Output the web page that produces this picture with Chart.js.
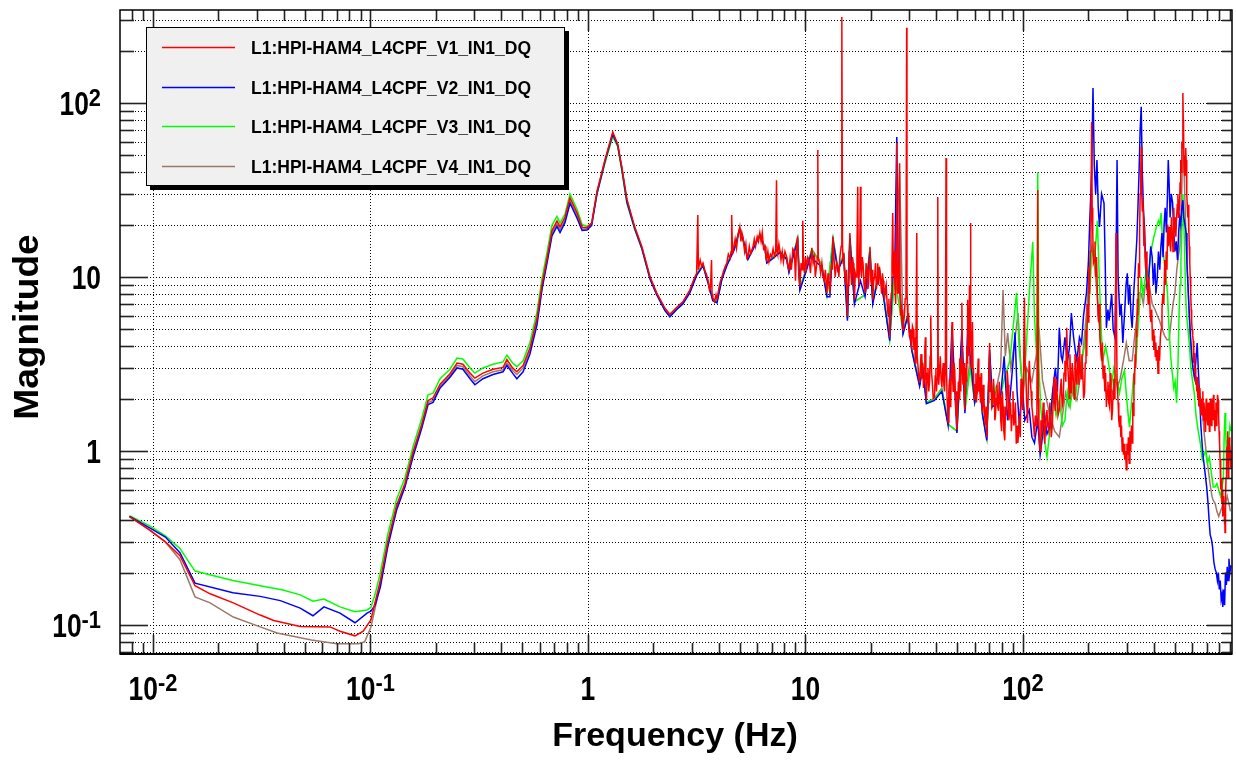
<!DOCTYPE html>
<html><head><meta charset="utf-8">
<script src="https://cdn.jsdelivr.net/npm/chart.js@4.4.1/dist/chart.umd.min.js"></script>
<style>html,body{margin:0;padding:0;background:#fff;}canvas{display:block;}</style>
</head><body>
<canvas id="c" width="1236" height="761"></canvas>
<script>
const seriesNames = ["L1:HPI-HAM4_L4CPF_V1_IN1_DQ","L1:HPI-HAM4_L4CPF_V2_IN1_DQ","L1:HPI-HAM4_L4CPF_V3_IN1_DQ","L1:HPI-HAM4_L4CPF_V4_IN1_DQ"];
const seriesColors = ["#ff0000","#0000ff","#00ff00","#9d7868"];
const xTitle = "Frequency (Hz)";
const yTitle = "Magnitude";
const xTickValues = [0.01,0.1,1,10,100];
const xTickLabels = [["10","-2"],["10","-1"],["1",""],["10",""],["10","2"]];
const yTickValues = [0.1,1,10,100];
const yTickLabels = [["10","-1"],["1",""],["10",""],["10","2"]];

// [frequency Hz, magnitude]
const V1 = [[0.0078,0.42],[0.0097,0.35],[0.0114,0.30],[0.0133,0.25],[0.0156,0.168],[0.0183,0.151],[0.0234,0.134],[0.0311,0.114],[0.0359,0.106],[0.0475,0.098],[0.0652,0.0975],[0.0724,0.092],[0.0849,0.0866],[0.0926,0.092],[0.1004,0.107],[0.105,0.135],[0.111,0.18],[0.120,0.30],[0.132,0.49],[0.144,0.65],[0.157,0.99],[0.172,1.42],[0.184,1.95],[0.194,2.02],[0.209,2.42],[0.232,2.78],[0.25,3.2],[0.266,3.15],[0.287,2.8],[0.302,2.62],[0.329,2.8],[0.366,2.95],[0.407,3.02],[0.424,3.35],[0.45,3.0],[0.471,2.85],[0.503,3.1],[0.541,3.9],[0.583,5.8],[0.615,9.1],[0.648,12.8],[0.683,18.4],[0.72,21],[0.744,19.4],[0.784,22],[0.827,28.5],[0.89,23.4],[0.94,19.3],[0.99,19.2],[1.04,20.4],[1.10,31],[1.197,47],[1.30,68],[1.37,58],[1.43,43],[1.51,28],[1.64,19.4],[1.77,14.9],[1.93,10.0],[2.07,8.1],[2.26,6.6],[2.38,6.1],[2.56,6.7],[2.73,7.2],[2.94,8.4],[3.02,9.2],[3.08,9.8],[3.16,10.5],[3.20,22.7],[3.22,11],[3.28,12.5],[3.33,11.5],[3.38,12],[3.45,10.8],[3.50,10.4],[3.56,9.6],[3.62,8.4],[3.66,8.8],[3.70,12.5],[3.72,8],[3.75,7.6],[3.82,7.2],[3.88,7.9],[3.92,7.4],[4.0,8.6],[4.06,9.4],[4.13,10],[4.2,10.8],[4.28,11.5],[4.35,12],[4.42,13.5],[4.5,12.8],[4.55,14],[4.58,22.7],[4.62,13.5],[4.68,14.9],[4.75,16.5],[4.82,14.6],[4.9,17.5],[4.99,19.4],[5.05,16],[5.1,18],[5.16,17],[5.25,14],[5.32,15.5],[5.38,12.8],[5.44,13],[5.52,15],[5.6,13.6],[5.67,14.2],[5.74,14.9],[5.82,16.5],[5.9,15],[6.0,17],[6.08,16],[6.17,17.9],[6.25,16],[6.33,18],[6.42,14.5],[6.52,15],[6.58,13],[6.64,12.5],[6.72,14],[6.8,12.3],[6.9,13.5],[7.0,13],[7.1,14.5],[7.2,13.2],[7.3,14],[7.36,36],[7.40,14],[7.45,13.5],[7.55,15.5],[7.62,14.3],[7.72,12.5],[7.82,14],[7.92,12.2],[8.05,14],[8.2,13],[8.3,11.6],[8.4,11],[8.5,12.8],[8.62,11],[8.75,14.5],[8.9,14],[9.0,9.5],[9.1,15],[9.2,17],[9.3,11],[9.43,8.8],[9.55,12],[9.65,11],[9.72,21],[9.8,12],[9.9,10.5],[10.0,13],[10.1,11.4],[10.25,13],[10.4,12.5],[10.55,10.5],[10.7,14.7],[10.85,12],[11.0,13],[11.1,10],[11.2,11],[11.35,13],[11.4,53.6],[11.45,13],[11.6,12],[11.75,10.5],[11.9,12],[12.05,10],[12.2,9.5],[12.35,11],[12.55,8.1],[12.7,10.5],[12.8,9.5],[12.95,8.1],[13.05,10],[13.2,12],[13.3,11],[13.4,17],[13.55,12.5],[13.7,10],[13.9,12],[14.1,11.4],[14.25,10],[14.4,13],[14.6,15],[14.7,312],[14.8,16],[14.9,12],[15.0,13.7],[15.15,10.5],[15.3,9],[15.45,11],[15.6,5.9],[15.7,9],[15.8,10],[15.9,14],[16.0,17.9],[16.15,11],[16.3,9],[16.45,13],[16.6,12],[16.7,9.5],[16.8,7.4],[16.95,10.5],[17.1,10],[17.25,14],[17.4,33],[17.5,11],[17.6,9],[17.75,12],[17.9,33],[18.0,11],[18.1,10],[18.25,13],[18.4,12],[18.6,9],[18.8,8.1],[19.0,12],[19.2,11],[19.35,8.5],[19.5,9],[19.65,12.5],[19.8,14.9],[19.95,10],[20.1,9],[20.25,11],[20.4,7.4],[20.6,9.5],[20.8,10],[21.0,12],[21.2,8.5],[21.35,10],[21.5,12],[21.7,9],[21.9,11.4],[22.1,10],[22.4,8],[22.6,10.5],[22.8,9.5],[22.95,8],[23.1,7.4],[23.3,8.5],[23.5,9],[23.75,7],[24.0,6],[24.2,7.5],[24.4,4.5],[24.6,6.5],[24.8,8],[25.0,12],[25.2,23.3],[25.35,11],[25.5,10],[25.6,14],[25.7,10.6],[25.85,8],[26.0,7],[26.15,20],[26.3,59],[26.4,12],[26.5,8],[26.6,10],[26.7,12],[26.9,8],[27.1,45],[27.25,8],[27.4,6],[27.6,7],[27.8,5.5],[27.95,6.5],[28.1,4.95],[28.3,5.5],[28.5,6],[28.75,7.5],[29.0,8],[29.2,270],[29.3,9],[29.4,7],[29.6,5.5],[29.8,6.2],[30.05,4.5],[30.3,5],[30.55,4.2],[30.8,3.96],[31.05,5.2],[31.3,5],[31.55,3.8],[31.8,4.5],[32.0,3.2],[32.2,3.5],[32.5,17.9],[32.65,3.5],[32.8,3.5],[33.1,2.8],[33.5,2.46],[33.75,3],[34.0,3.6],[34.3,2.6],[34.6,3.2],[34.9,2.3],[35.2,2.6],[35.4,3.8],[35.6,4.5],[35.8,2.5],[36.0,1.96],[36.3,2.8],[36.6,3],[36.9,2.2],[37.2,2.5],[37.45,3.5],[37.7,6.0],[38.0,2.8],[38.3,2.5],[38.7,2.0],[39.2,2.04],[39.5,2.7],[39.8,3],[40.05,2.2],[40.3,2.6],[40.6,28.8],[40.8,3],[41.0,2.4],[41.35,2.9],[41.7,3.5],[42.05,2.6],[42.4,2.33],[42.7,2.8],[43.0,3.2],[43.3,2.4],[43.6,2.2],[44.0,3],[44.3,48.3],[44.55,3],[44.8,2.0],[45.05,1.7],[45.3,1.45],[45.65,2.2],[46.0,2.6],[46.3,1.8],[46.6,2.0],[46.9,3],[47.2,5.5],[47.5,2.6],[47.8,2.2],[48.2,3.2],[48.6,2.9],[48.9,2],[49.2,1.6],[49.45,2.2],[49.7,1.32],[50.1,1.8],[50.5,2.5],[50.85,2],[51.2,3.4],[51.5,2.6],[51.8,2.2],[52.1,3.5],[52.4,7.1],[52.7,3],[53.0,2.4],[53.3,2.9],[53.6,3.2],[53.85,2.2],[54.1,1.72],[54.45,2.3],[54.8,3],[55.05,2.5],[55.3,4],[55.5,3.2],[55.7,7.4],[55.95,4],[56.2,5],[56.5,3.5],[56.8,9],[57.0,6],[57.2,4],[57.35,8],[57.5,20.4],[57.7,5],[57.9,3],[58.25,3.8],[58.6,5.5],[58.95,3],[59.3,2.6],[59.65,2.2],[60.0,1.96],[60.4,2.4],[60.8,2.8],[61.15,1.9],[61.5,2.2],[61.9,2.8],[62.3,3.4],[62.7,2.2],[63.1,2.66],[63.45,2.2],[63.8,1.9],[64.2,2.8],[64.6,2.4],[64.95,1.8],[65.3,1.65],[65.75,2.4],[66.2,2.0],[66.7,1.6],[67.2,1.4],[67.7,1.8],[68.2,1.2],[68.7,1.6],[69.2,1.9],[69.7,2.6],[70.3,4.17],[70.8,2.2],[71.3,2.5],[71.9,1.8],[72.6,1.89],[73.2,2.6],[73.8,2.2],[74.3,1.5],[74.8,1.6],[75.4,2.0],[76.0,2.4],[76.6,1.8],[77.2,1.7],[77.8,2.5],[78.5,2.04],[79.1,1.5],[79.8,1.3],[80.4,2.2],[81.0,1.8],[81.7,1.3],[82.5,1.15],[83.2,1.8],[84.0,1.6],[84.7,2.9],[85.5,2.4],[86.2,1.5],[87.0,1.72],[87.7,1.9],[88.5,1.3],[89.2,1.6],[90.0,2.2],[90.8,1.4],[91.6,1.5],[92.4,1.9],[93.2,1.1],[94.0,1.4],[94.8,1.11],[95.6,1.3],[96.5,1.6],[97.2,1.2],[98.0,2.6],[98.8,2.0],[99.7,1.72],[100.6,2.5],[101.6,7.6],[102.4,3],[103.2,2.8],[104,1.9],[105,1.45],[106,2.4],[107,3.3],[108,2.6],[109,2.2],[110,1.8],[111,1.6],[112,1.4],[113,1.2],[114,1.6],[115,1.4],[116,2.0],[117,31.6],[117.8,2.0],[118.5,1.4],[119.3,1.1],[120,1.0],[121,1.5],[122,1.2],[123,1.5],[124,1.9],[125,1.4],[126,1.1],[127.5,1.5],[129,1.72],[130,1.4],[131.5,1.3],[133,1.9],[134,1.65],[135,1.2],[136.5,1.4],[138,2.0],[139,2.66],[140,1.9],[141,1.7],[142.5,2.6],[143.5,2.2],[145,1.6],[147,1.72],[148.5,2.2],[150,2.6],[151.5,1.8],[153,1.9],[154.5,2.8],[156,3.3],[157.5,2.5],[159,5.1],[160.5,3.2],[162,2.6],[163.2,2.0],[164.5,3.6],[165.8,2.5],[167,2.15],[168.5,3.2],[170,2.8],[171.8,2.0],[173.5,3.6],[175.2,2.8],[177,2.4],[178.5,3.5],[180,3],[181,2.4],[182,4.17],[183.5,3.0],[185,2.6],[186.8,3.6],[188.5,2.8],[190.2,2.0],[192,2.15],[193.5,3.2],[195,5],[196.5,3.5],[198,7],[199.5,5.5],[201,11.4],[202.5,8],[204,14],[205.5,20],[207,77.6],[208.2,25],[209.5,18],[211,12],[213,12.5],[214.5,16],[216,10],[218,13],[220,8.1],[221.5,6],[223,5.5],[224.5,7],[226,4.5],[228,3.8],[230,3.3],[232,4.2],[234,2.6],[236,3.1],[238,2.2],[240,2.8],[242,1.79],[244,2.2],[246,2.5],[248,1.9],[250,1.8],[252,2.8],[254,2.3],[256,1.5],[258,1.7],[260,2.2],[262,2.6],[263.5,2.0],[265,3.5],[266.5,6],[268,17.9],[269.5,5],[271,2.5],[272.5,2.2],[274,1.9],[276,1.5],[278,1.37],[280,1.6],[282,1.2],[284,1.4],[286,1.0],[288,1.2],[290,0.95],[292,1.1],[294,0.89],[296.5,1.0],[299,0.78],[301,1.1],[303,0.95],[305.5,1.2],[308,0.85],[310.5,1.3],[313,1.0],[315.5,1.4],[318,1.11],[320,1.9],[322,1.6],[324,2.8],[326,2.4],[328,3.6],[330,3.0],[332,5],[334,4.5],[336,7.5],[338,6],[340,12],[342,10],[344,18],[346,30],[348,40],[350,56],[352,30],[354,24],[356,28],[358,22],[360,15],[362,19.4],[364.5,13],[367,11],[369.5,14],[372,9.5],[374.5,8],[377,7],[379.5,10],[382,8.1],[385,6],[388,5.5],[391,6.5],[394,4.3],[397,5],[400,3.8],[403,4.6],[406,3.5],[408.5,4.2],[411,3.3],[414.5,3.8],[418,2.8],[421.5,4],[425,3.3],[428.5,4.5],[432,5],[436,6.5],[440,8],[444.5,7],[449,12.5],[452.5,9],[456,14],[459.5,11],[463,20],[466.5,15],[470,19.4],[474,16],[478,14],[482,22],[486,18],[490,14],[494,25],[497.5,18],[501,22],[505,17],[509,22],[512.5,26],[516,30],[519,22],[522,28],[525,24],[528,35],[530.5,30],[533,47],[535.5,40],[538,60],[541,55],[544,114],[546,80],[548,70],[550.5,45],[553,50],[555.5,38],[558,40],[560.5,55],[563,47],[565.5,35],[568,30],[570.5,25],[573,22],[575.5,26],[578,18],[580,20],[582,15],[585,12],[588,10],[591,8],[594,6.5],[597,5.5],[600,5],[603.5,4.6],[607,4.3],[610.5,3.2],[614,3.66],[617,2.8],[620,3],[623.5,2.4],[627,2.66],[630,2.2],[633,2.66],[636.5,2.0],[640,2.4],[643.5,1.8],[647,2.0],[651,2.3],[655,1.9],[658.5,1.6],[662,2.0],[665,1.6],[668,1.8],[672,2.2],[676,1.5],[680,1.9],[684,1.7],[688,1.3],[692,1.45],[696,2.0],[700,1.9],[704,1.5],[708,1.4],[712,1.9],[716,1.6],[720,1.3],[724,1.45],[728,2.0],[732,1.7],[736,1.4],[740,2.0],[744,1.7],[748,1.5],[752,2.1],[756,1.8],[760,1.5],[764,1.3],[768,1.7],[772,1.9],[776,1.4],[780,1.6],[785,2.1],[790,1.96],[794,1.6],[798,1.3],[802,1.1],[806,0.9],[810,0.75],[814,0.6],[818,0.7],[822,0.5],[826,0.6],[830,0.42],[834,0.55],[838,0.5],[842,0.45],[845,0.38],[848,0.45],[850,0.34],[853,0.42],[856,0.55],[859,0.7],[862,0.8],[865,1.0],[868,1.06],[871,1.3],[874,0.9],[877,1.1],[880,0.7],[883,0.95],[886,0.85],[889,1.2],[892,0.9],[895,1.1],[898,1.0],[901,0.8],[905,0.9]];

const V2 = [[0.0078,0.42],[0.0097,0.36],[0.0114,0.32],[0.0133,0.26],[0.0156,0.174],[0.0233,0.153],[0.0311,0.146],[0.0385,0.138],[0.0475,0.125],[0.0544,0.113],[0.0611,0.127],[0.0724,0.117],[0.0849,0.103],[0.0964,0.117],[0.1004,0.12],[0.105,0.13],[0.111,0.165],[0.120,0.28],[0.132,0.46],[0.144,0.62],[0.157,0.93],[0.172,1.35],[0.184,1.85],[0.194,1.9],[0.209,2.3],[0.232,2.65],[0.25,3.0],[0.266,2.95],[0.287,2.6],[0.302,2.4],[0.329,2.6],[0.366,2.75],[0.407,2.85],[0.424,3.1],[0.45,2.8],[0.471,2.6],[0.503,2.85],[0.541,3.6],[0.583,5.3],[0.615,8.5],[0.648,12],[0.683,17.2],[0.72,19.5],[0.744,18],[0.784,20.5],[0.827,26.5],[0.89,21.8],[0.94,18.5],[0.99,18.6],[1.04,19.8],[1.10,30],[1.197,46],[1.30,66],[1.37,57],[1.43,42],[1.51,27],[1.64,19],[1.77,14.5],[1.93,9.7],[2.07,7.9],[2.26,6.4],[2.38,5.9],[2.56,6.5],[2.73,7.0],[2.94,8.1],[3.16,10.2],[3.38,11.6],[3.56,9.3],[3.75,7.3],[3.92,7.1],[4.13,9.7],[4.35,11.6],[4.7,14.3],[4.99,18.7],[5.16,16.4],[5.44,12.6],[5.74,14.4],[6.17,17.3],[6.52,14.5],[6.64,12],[7.0,12.6],[7.62,13.8],[8.2,12.6],[8.4,10.6],[9.2,16.3],[9.43,8.4],[10.1,10.9],[10.7,14],[11.0,12.4],[11.9,11.4],[12.55,7.7],[12.95,7.7],[13.4,16],[14.1,10.9],[15.0,13],[15.6,5.6],[16.0,16.8],[16.8,7],[17.9,9.5],[18.8,7.7],[19.8,14],[20.4,7],[21.9,10.8],[23.1,7],[24.4,4.3],[25.2,10],[25.7,10],[26.3,63.6],[26.7,11],[28.1,4.7],[29.5,5.9],[30.8,3.8],[33.5,2.35],[34.6,3.0],[36,1.87],[39.2,1.95],[42.4,2.2],[45.3,1.4],[47.2,5.2],[49.7,1.27],[52.4,5],[54.1,1.65],[55.7,5],[60,1.9],[63.1,2.5],[65.3,1.6],[68.2,1.15],[70.3,3.8],[72.6,1.8],[78.5,1.9],[82,3.5],[85,1.5],[87,1.96],[90,3.2],[92,4.8],[94,2.2],[96.5,1.37],[99,2.5],[102,1.5],[107,1.72],[110,1.2],[113,1.11],[117,1.5],[120,0.95],[122,1.11],[126,1.6],[129,1.25],[133,1.37],[137,2.2],[141,3],[144,2.2],[147,5.1],[150,3.5],[152,3.3],[156,4.5],[160,3.2],[164,4],[167,6.2],[171,4.5],[174,3.8],[177,3.3],[182,4.5],[186,4.17],[190,6],[196,8.1],[200,12],[203,21.2],[207,40],[210,122],[212,60],[213,43],[216,30],[219,47],[222,25],[225,19.4],[230,30],[236,26.6],[239,12],[242,5.1],[246,6.5],[249,5.6],[256,8],[260,5],[265,4.5],[268,12],[271,47],[274,10],[279,6],[283,7],[288,4.17],[294,6.5],[298,9],[302,10.5],[306,7],[310,9],[314,6],[318,5.1],[323,8],[328,11],[334,16.3],[338,25],[342,40],[346,70],[350,95],[354,40],[358,25],[362,19.4],[367,12],[371,9],[375,8.1],[381,11],[387,15],[393,13],[398,9],[404,12],[409,8],[415,10],[420,14],[426,11],[431,15],[436,17.9],[441,13],[446,20],[451,25],[457,18],[462,30],[466,47],[470,35],[475,22],[481,30],[488,26.6],[494,18],[500,14],[507,16],[514,12.5],[520,18],[526,22],[532,20],[538,25],[544,27.6],[549,22],[556,20],[563,17.9],[568,12],[574,9],[582,6.2],[590,4.5],[598,3.5],[605,3.0],[614,2.66],[623,3.2],[633,4.17],[640,3],[650,2],[658,1.4],[668,1.06],[676,0.9],[684,0.8],[692,0.7],[700,0.62],[710,0.5],[718,0.4],[726,0.33],[736,0.31],[745,0.28],[755,0.23],[765,0.21],[775,0.2],[784,0.18],[792,0.2],[800,0.16],[808,0.18],[816,0.14],[824,0.15],[830,0.127],[838,0.16],[846,0.13],[854,0.2],[862,0.17],[870,0.216],[878,0.18],[886,0.24],[895,0.2],[905,0.22]];

const V3 = [[0.0078,0.425],[0.0097,0.37],[0.0114,0.325],[0.0133,0.275],[0.0156,0.204],[0.0233,0.18],[0.0311,0.168],[0.0396,0.159],[0.0475,0.149],[0.0544,0.137],[0.0611,0.141],[0.0724,0.127],[0.0849,0.119],[0.0964,0.122],[0.1004,0.126],[0.105,0.15],[0.111,0.2],[0.120,0.33],[0.132,0.53],[0.144,0.70],[0.157,1.06],[0.172,1.53],[0.184,2.1],[0.194,2.15],[0.209,2.6],[0.232,2.95],[0.25,3.42],[0.266,3.38],[0.287,3.0],[0.302,2.8],[0.329,3.0],[0.366,3.15],[0.407,3.25],[0.424,3.55],[0.45,3.2],[0.471,3.05],[0.503,3.3],[0.541,4.2],[0.583,6.3],[0.615,9.8],[0.648,13.8],[0.683,19.8],[0.72,22.3],[0.744,20.4],[0.784,23],[0.827,30],[0.89,24.5],[0.94,20],[0.99,19.5],[1.04,20.4],[1.10,30],[1.197,45],[1.30,64],[1.37,56],[1.43,41],[1.51,26.5],[1.64,18.8],[1.77,14.5],[1.93,9.8],[2.07,8.0],[2.26,6.4],[2.38,6.0],[2.56,6.5],[2.73,7.0],[2.94,8.2],[3.16,10.3],[3.38,11.8],[3.56,9.4],[3.75,7.4],[3.92,7.2],[4.13,9.8],[4.35,11.8],[4.7,14.6],[4.99,19],[5.16,16.6],[5.44,12.7],[5.74,14.6],[6.17,17.5],[6.52,14.7],[6.64,12.2],[7.0,12.8],[7.62,14],[8.2,12.8],[8.4,10.8],[9.2,16.6],[9.43,8.6],[10.1,11.1],[10.7,14.3],[11.9,11.7],[12.55,7.9],[13.4,16.5],[14.1,11],[15.0,13.3],[15.6,5.8],[16.0,17.2],[16.8,7.2],[18.8,7.9],[19.8,14.5],[20.4,7.2],[21.9,11],[23.1,7.2],[24.4,4.4],[25.7,10.3],[28.1,4.8],[29.5,6],[30.8,3.85],[33.5,2.4],[34.6,3.1],[36,1.9],[39.2,2.0],[42.4,2.25],[45.3,1.42],[49.7,1.3],[52.4,4],[54.1,1.7],[57.2,3],[60,1.9],[63.1,2.6],[65.3,1.6],[68.2,1.2],[70.3,3.5],[72.6,1.85],[75,2.3],[78.5,2.0],[82,2.6],[87,3.3],[90,5],[93.5,8.1],[96,4],[100,2.15],[103,3.5],[107,8.1],[111,15.9],[113,6],[116,3.3],[117,40],[118.5,3],[121,1.72],[125,1.2],[129,0.92],[133,1.3],[137,2.15],[142,1.6],[147,2.0],[152,1.4],[156,1.5],[160,2.2],[165,1.8],[169,2.33],[174,2.0],[180,2.8],[186,3.3],[192,4],[197,5.5],[203,8.1],[208,15],[213,12],[220,21],[225,9],[229,5],[233,3.3],[240,4],[245,3.5],[249,3.03],[256,2.4],[262,3],[270,2.6],[278,2.15],[285,2.6],[293,2.9],[300,2],[305,1.6],[309,1.37],[315,1.8],[322,2.6],[331,3.3],[338,5],[344,7],[350,10],[356,8],[362,9],[370,11.4],[378,10],[385,13],[392,15],[400,17],[411,19.4],[420,21],[426,20],[432,23.3],[440,15],[447,12],[455,10],[462,8.1],[470,5],[478,3.5],[486,2.8],[494,2.3],[501,2.5],[509,1.89],[516,3],[522,6],[528,9],[533,12.5],[539,20],[544,30],[549,22],[554,14],[560,8],[566,6],[574,5],[582,4.17],[592,3],[603,2.5],[614,2.15],[625,1.6],[640,1.3],[655,1.1],[668,0.89],[680,0.95],[692,1.0],[705,0.85],[720,0.92],[735,0.75],[750,0.62],[765,0.62],[780,0.65],[795,0.6],[810,0.55],[825,0.62],[835,0.7],[842,1.2],[850,1.65],[856,1.3],[862,1.0],[870,1.16],[878,0.9],[886,1.2],[895,1.4],[905,1.3]];

const V4 = [[0.0078,0.42],[0.0097,0.35],[0.0114,0.30],[0.0133,0.237],[0.0156,0.145],[0.0183,0.134],[0.0234,0.111],[0.0311,0.0975],[0.0372,0.090],[0.0535,0.082],[0.0700,0.078],[0.0880,0.078],[0.0940,0.080],[0.1004,0.097],[0.105,0.125],[0.111,0.172],[0.120,0.29],[0.132,0.475],[0.144,0.635],[0.157,0.96],[0.172,1.39],[0.184,1.9],[0.194,1.95],[0.209,2.36],[0.232,2.7],[0.25,3.1],[0.266,3.05],[0.287,2.7],[0.302,2.5],[0.329,2.7],[0.366,2.85],[0.407,2.93],[0.424,3.2],[0.45,2.9],[0.471,2.75],[0.503,3.0],[0.541,3.75],[0.583,5.6],[0.615,8.8],[0.648,12.4],[0.683,17.8],[0.72,20.2],[0.744,18.7],[0.784,21.2],[0.827,27.5],[0.89,22.6],[0.94,18.8],[0.99,18.9],[1.04,20.1],[1.10,30.5],[1.197,46.5],[1.30,67],[1.37,57.5],[1.43,42.5],[1.51,27.5],[1.64,19.2],[1.77,14.7],[1.93,9.9],[2.07,8.0],[2.26,6.5],[2.38,6.0],[2.56,6.6],[2.73,7.1],[2.94,8.3],[3.16,10.4],[3.38,11.8],[3.56,9.5],[3.75,7.5],[3.92,7.3],[4.13,9.9],[4.35,11.8],[4.7,14.6],[4.99,19],[5.16,16.7],[5.44,12.8],[5.74,14.7],[6.17,17.6],[6.52,14.8],[6.64,12.3],[7.0,12.8],[7.62,14.1],[8.2,12.8],[8.4,10.8],[9.2,16.7],[9.43,8.6],[10.1,11.2],[10.7,14.4],[11.9,11.8],[12.55,7.9],[13.4,16.6],[14.1,11.2],[15.0,13.4],[15.6,5.8],[16.0,17.5],[16.8,7.2],[18.8,7.9],[19.8,14.6],[20.4,7.2],[21.9,11.1],[23.1,7.2],[24.4,4.4],[25.7,10.4],[27.1,40],[28.1,4.8],[29.5,6],[30.8,3.9],[33.5,2.4],[34.6,3.1],[36,1.9],[39.2,2.0],[42.4,2.3],[45.3,1.42],[49.7,1.3],[52.4,4.5],[54.1,1.7],[57.2,3.5],[60,1.9],[63.1,2.6],[65.3,1.6],[68.2,1.18],[70.3,3.6],[72.6,1.85],[76,2.4],[79,3],[81,8.4],[83,3.5],[85.1,4.76],[88,3],[91,4],[95,6.2],[98,3],[100,2.15],[104,3],[110,2.5],[115,3.5],[119,4.76],[123,2.56],[128,2.0],[133,1.6],[140,1.3],[147,1.2],[152,1.6],[157,2.15],[163,1.8],[170,2.2],[177,1.96],[183,2.6],[190,4],[196,6.2],[200,9],[203,12],[208,15],[213,12.5],[219,8],[225,5.1],[232,3],[242,2.15],[250,2.4],[258,2.15],[265,2.6],[272,2.33],[280,2.6],[290,3.3],[299,4.17],[308,3.3],[318,3.3],[326,4.5],[335,6],[342,8.1],[350,8],[358,7],[365,9],[373,8.5],[382,8.8],[393,7],[405,6.5],[415,6],[425,5.6],[437,5],[448,4.6],[460,4.35],[470,4.35],[480,5.5],[490,7],[500,8.1],[510,11],[518,13],[527,14.9],[535,25],[540,40],[544,56],[548,45],[552,37],[560,20],[568,12],[576,8.1],[585,5],[595,3.6],[605,3],[617,2.66],[627,2.66],[640,2.2],[655,1.9],[668,1.72],[680,1.3],[695,1.0],[710,0.8],[725,0.65],[740,0.55],[750,0.52],[765,0.5],[780,0.45],[795,0.42],[810,0.45],[825,0.48],[840,0.52],[855,0.5],[870,0.55],[885,0.5],[900,0.45]];

const X_MIN = 0.00705, X_MAX = 915, Y_MIN = 0.0681, Y_MAX = 342;
const FONT = '"Liberation Sans", Arial, Helvetica, sans-serif';

function drawSup(ctx, base, exp, x, y, align, bs, bsx, es, esx, rise) {
  ctx.font = 'bold ' + bs + 'px ' + FONT;
  const wb = ctx.measureText(base).width * bsx;
  ctx.font = 'bold ' + es + 'px ' + FONT;
  const we = exp ? ctx.measureText(exp).width * esx : 0;
  const tot = wb + we;
  const x0 = align === 'center' ? x - tot / 2 : (align === 'right' ? x - tot : x);
  ctx.textAlign = 'left'; ctx.textBaseline = 'alphabetic'; ctx.fillStyle = '#000';
  ctx.save(); ctx.translate(x0, y); ctx.scale(bsx, 1);
  ctx.font = 'bold ' + bs + 'px ' + FONT; ctx.fillText(base, 0, 0); ctx.restore();
  if (exp) {
    ctx.save(); ctx.translate(x0 + wb, y - rise); ctx.scale(esx, 1);
    ctx.font = 'bold ' + es + 'px ' + FONT; ctx.fillText(exp, 0, 0); ctx.restore();
  }
}

function allLogValues(min, max) {
  const out = [];
  for (let e = -3; e <= 3; e++) for (let k = 1; k <= 9; k++) {
    const v = k * Math.pow(10, e);
    if (v >= min && v <= max) out.push({ v: v, major: k === 1 });
  }
  return out;
}

const rootPlugin = {
  id: 'rootStyle',
  beforeDatasetsDraw(chart) {
    const { ctx, chartArea: a, scales: { x, y } } = chart;
    ctx.save();
    ctx.strokeStyle = '#000'; ctx.lineWidth = 1; ctx.setLineDash([1, 2]);
    allLogValues(Y_MIN, Y_MAX).forEach(t => {
      const py = Math.round(y.getPixelForValue(t.v)) + 0.5;
      ctx.beginPath(); ctx.moveTo(a.left, py); ctx.lineTo(a.right, py); ctx.stroke();
    });
    xTickValues.forEach(v => {
      const px = Math.round(x.getPixelForValue(v)) + 0.5;
      ctx.beginPath(); ctx.moveTo(px, a.top); ctx.lineTo(px, a.bottom); ctx.stroke();
    });
    ctx.restore();
  },
  afterDraw(chart) {
    const { ctx, chartArea: a, scales: { x, y } } = chart;
    ctx.save();
    ctx.strokeStyle = '#222'; ctx.lineWidth = 1.6; ctx.setLineDash([]);
    allLogValues(Y_MIN, Y_MAX).forEach(t => {
      const py = Math.round(y.getPixelForValue(t.v)) + 0.5;
      ctx.beginPath(); ctx.moveTo(a.left, py); ctx.lineTo(a.left + (t.major ? 28 : 14), py); ctx.stroke();
      ctx.beginPath(); ctx.moveTo(a.right, py); ctx.lineTo(a.right - (t.major ? 25 : 10), py); ctx.stroke();
    });
    allLogValues(X_MIN, X_MAX).forEach(t => {
      const px = Math.round(x.getPixelForValue(t.v)) + 0.5;
      ctx.beginPath(); ctx.moveTo(px, a.bottom); ctx.lineTo(px, a.bottom - (t.major ? 19 : 11)); ctx.stroke();
      ctx.beginPath(); ctx.moveTo(px, a.top); ctx.lineTo(px, a.top + (t.major ? 21 : 11)); ctx.stroke();
    });
    ctx.strokeStyle = '#000'; ctx.lineWidth = 1.5;
    ctx.strokeRect(a.left, a.top, a.right - a.left, a.bottom - a.top);
    ctx.lineWidth = 2;
    ctx.beginPath(); ctx.moveTo(a.left, a.bottom); ctx.lineTo(a.right, a.bottom); ctx.stroke();
    xTickValues.forEach((v, i) => {
      const px = x.getPixelForValue(v);
      drawSup(ctx, xTickLabels[i][0], xTickLabels[i][1], px, 700, 'center', 33, 0.8, 23, 0.95, 9);
    });
    yTickValues.forEach((v, i) => {
      const py = y.getPixelForValue(v);
      drawSup(ctx, yTickLabels[i][0], yTickLabels[i][1], 101, py + 12, 'right', 33, 0.8, 23, 0.95, 9);
    });
    ctx.fillStyle = '#000'; ctx.textAlign = 'center'; ctx.textBaseline = 'alphabetic';
    ctx.font = 'bold 34px ' + FONT;
    ctx.save(); ctx.translate(675, 746); ctx.scale(1.0, 1); ctx.fillText(xTitle, 0, 0); ctx.restore();
    ctx.font = 'bold 35px ' + FONT;
    ctx.save(); ctx.translate(38, 327); ctx.rotate(-Math.PI / 2); ctx.scale(1.06, 1); ctx.fillText(yTitle, 0, 0); ctx.restore();
    const L = 146, T = 27, R = 565, B = 186;
    ctx.fillStyle = '#000'; ctx.fillRect(L + 4, T + 4, R - L, B - T);
    ctx.fillStyle = '#f0f0f0'; ctx.fillRect(L, T, R - L, B - T);
    ctx.strokeStyle = '#000'; ctx.lineWidth = 1; ctx.strokeRect(L + 0.5, T + 0.5, R - L - 1, B - T - 1);
    const rows = [47.5, 87.5, 126.5, 166.5];
    seriesNames.forEach((n, i) => {
      ctx.strokeStyle = seriesColors[i]; ctx.lineWidth = 1.3;
      ctx.beginPath(); ctx.moveTo(162, rows[i]); ctx.lineTo(235, rows[i]); ctx.stroke();
      ctx.fillStyle = '#000'; ctx.font = 'bold 17.5px ' + FONT; ctx.textAlign = 'left';
      ctx.fillText(n, 251, rows[i] + 6);
    });
    ctx.restore();
  }
};

const series = [V1, V2, V3, V4];
new Chart(document.getElementById('c'), {
  type: 'line',
  data: {
    datasets: series.map((s, i) => ({
      label: seriesNames[i],
      data: s.map(p => ({ x: p[0], y: p[1] })),
      borderColor: seriesColors[i],
      borderWidth: 1.5,
      pointRadius: 0,
      tension: 0,
      fill: false
    }))
  },
  options: {
    responsive: false,
    animation: false,
    devicePixelRatio: 1,
    layout: { padding: { left: 120, right: 4, top: 10, bottom: 107 } },
    scales: {
      x: { type: 'logarithmic', min: X_MIN, max: X_MAX, display: false },
      y: { type: 'logarithmic', min: Y_MIN, max: Y_MAX, display: false }
    },
    plugins: { legend: { display: false }, tooltip: { enabled: false } }
  },
  plugins: [rootPlugin]
});
</script>
</body></html>
